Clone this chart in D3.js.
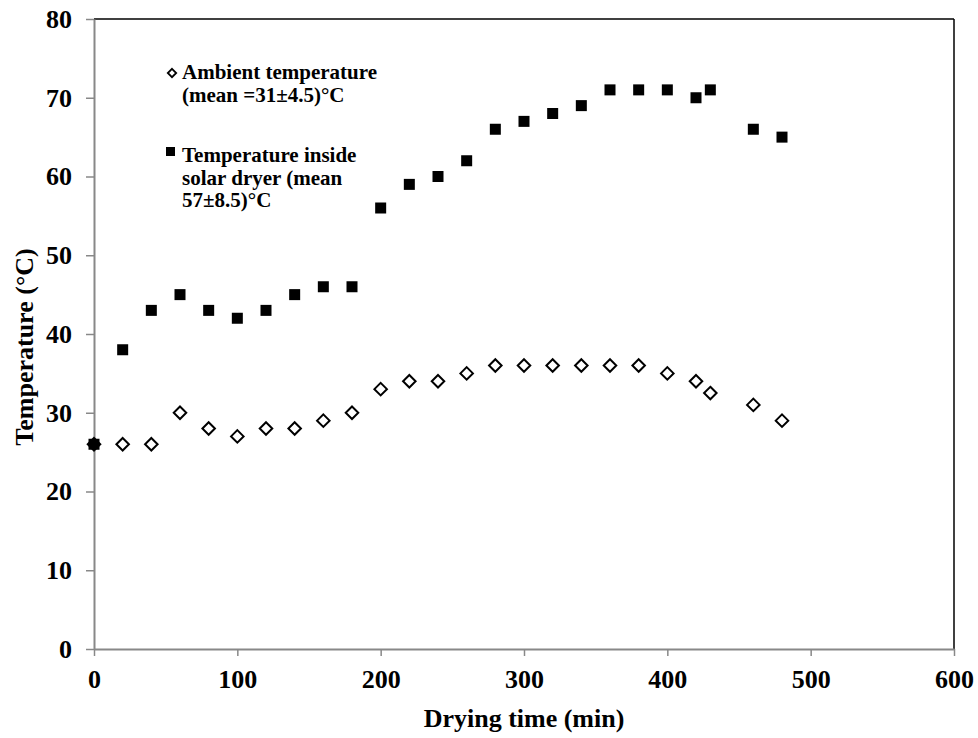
<!DOCTYPE html>
<html><head><meta charset="utf-8">
<script src="https://cdn.jsdelivr.net/npm/d3@7/dist/d3.min.js"></script>
<style>body{margin:0;background:#fff}svg{display:block}text{font-family:"Liberation Serif","Times New Roman",serif;font-weight:bold;fill:#000}</style>
</head><body><svg id="c" width="978" height="738"></svg>
<script>
const time = [0,20,40,60,80,100,120,140,160,180,200,220,240,260,280,300,320,340,360,380,400,420,430,460,480];
const ambient = [26,26,26,30,28,27,28,28,29,30,33,34,34,35,36,36,36,36,36,36,35,34,32.5,31,29];
const inside = [26,38,43,45,43,42,43,45,46,46,56,59,60,62,66,67,68,69,71,71,71,70,71,66,65];
const xTicks = [0,100,200,300,400,500,600];
const yTicks = [0,10,20,30,40,50,60,70,80];
const legendAmbient = ["Ambient temperature","(mean =31±4.5)°C"];
const legendInside = ["Temperature inside","solar dryer (mean","57±8.5)°C"];

const svg = d3.select("#c");
const L=94, R=954, T=19, B=649;
const x = d3.scaleLinear().domain([0,600]).range([L,R]);
const y = d3.scaleLinear().domain([0,80]).range([B,T]);

svg.append("line").attr("x1",L).attr("x2",R).attr("y1",T).attr("y2",T).attr("stroke","#000").attr("stroke-width",1.5);
svg.append("line").attr("x1",R).attr("x2",R).attr("y1",T).attr("y2",B).attr("stroke","#000").attr("stroke-width",1.5);

const xa = svg.append("g").attr("transform",`translate(0,${B})`).call(d3.axisBottom(x).tickValues(xTicks).tickSize(7).tickSizeOuter(0).tickPadding(14));
const ya = svg.append("g").attr("transform",`translate(${L},0)`).call(d3.axisLeft(y).tickValues(yTicks).tickSize(8).tickSizeOuter(0).tickPadding(14));
[xa,ya].forEach(g=>{
  g.select(".domain").attr("stroke","#888").attr("stroke-width",2);
  g.selectAll(".tick line").attr("stroke","#888").attr("stroke-width",1.5);
  g.selectAll(".tick text").style("font-size","26px").style("font-family",'"Liberation Serif",serif').style("font-weight","bold").attr("fill","#000");
});

svg.append("text").attr("x",524).attr("y",727).attr("text-anchor","middle").style("font-size","26px").text("Drying time (min)");
svg.append("text").attr("transform",`translate(33,347) rotate(-90)`).attr("text-anchor","middle").style("font-size","26px").text("Temperature (°C)");

const diamond = d3.symbol().type(d3.symbolDiamond2).size(100);
svg.append("g").selectAll("path").data(time).join("path")
  .attr("transform",(d,i)=>`translate(${x(d)},${y(ambient[i])})`)
  .attr("d",diamond).attr("fill","#fff").attr("stroke","#000").attr("stroke-width",2);

svg.append("g").selectAll("rect").data(time).join("rect")
  .attr("x",d=>x(d)-5.5).attr("y",(d,i)=>y(inside[i])-5.5).attr("width",11).attr("height",11).attr("fill","#000");

// legend
svg.append("path").attr("transform","translate(172,73)").attr("d",d3.symbol().type(d3.symbolDiamond2).size(45)).attr("fill","#fff").attr("stroke","#000").attr("stroke-width",1.8);
svg.append("g").selectAll("text").data(legendAmbient).join("text")
  .attr("x",182).attr("y",(d,i)=>79+i*23).style("font-size","21px").text(d=>d);
svg.append("rect").attr("x",166).attr("y",147).attr("width",9).attr("height",9).attr("fill","#000");
svg.append("g").selectAll("text").data(legendInside).join("text")
  .attr("x",182).attr("y",(d,i)=>162+i*22.5).style("font-size","21px").text(d=>d);
</script></body></html>
